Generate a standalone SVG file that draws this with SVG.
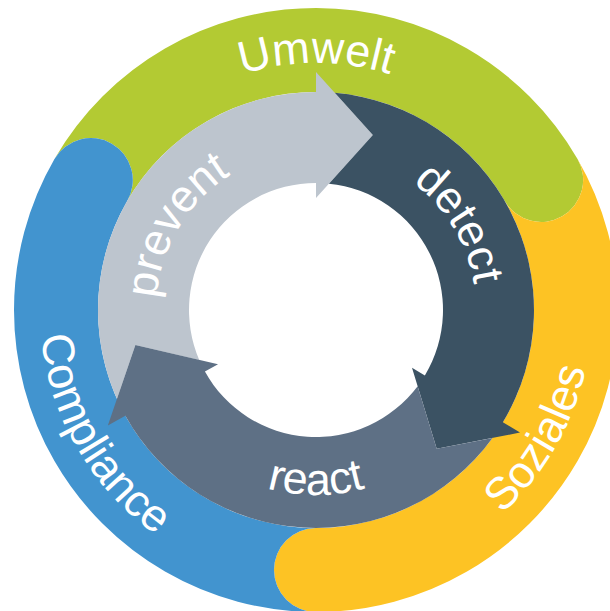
<svg xmlns="http://www.w3.org/2000/svg" width="610" height="611" viewBox="0 0 610 611">
  <style>
    .label { font-family: "Liberation Sans", Arial, Helvetica, sans-serif; font-size: 45px; fill: #ffffff; }
    .umwelt { fill: #B3CA33; }
    .soziales { fill: #FDC324; }
    .compliance { fill: #4294CF; }
    .prevent { fill: #BDC5CE; }
    .detect { fill: #3B5263; }
    .react { fill: #5E7085; }
  </style>
  <defs>
    <!-- baselines for the curved labels (centre 316,310) -->
    <path id="p-umwelt" d="M 72.75,267.11 A 247 247 0 0 1 559.25,267.11"/>
    <path id="p-soziales" d="M 221.60,569.36 A 276 276 0 0 0 493.41,98.57"/>
    <path id="p-compliance" d="M 138.59,98.57 A 276 276 0 0 0 410.40,569.36"/>
    <path id="p-prevent" d="M 211.03,430.75 A 160 160 0 0 1 373.34,160.63"/>
    <path id="p-detect" d="M 258.66,160.63 A 160 160 0 0 1 420.97,430.75"/>
    <path id="p-react" d="M 133.81,342.12 A 185 185 0 0 0 498.19,342.12"/>
  </defs>

  <!-- outer ring: three rounded segments, each tucked under the previous one's cap -->
  <g id="umwelt">
    <path class="umwelt" d="M 54.46,159 A 302 302 0 0 1 577.54,159 A 42 42 0 0 1 504.79,201 A 218 218 0 0 0 127.21,201 A 42 42 0 0 0 54.46,159 Z"/>
    <text class="label"><textPath href="#p-umwelt" startOffset="50%" text-anchor="middle">Umwelt</textPath></text>
  </g>
  <g id="soziales">
    <path class="soziales" d="M 577.54,159 A 302 302 0 0 1 316,612 A 42 42 0 0 1 316,528 A 218 218 0 0 0 504.79,201 A 42 42 0 0 0 577.54,159 Z"/>
    <text class="label"><textPath href="#p-soziales" startOffset="50%" text-anchor="middle">Soziales</textPath></text>
  </g>
  <g id="compliance">
    <path class="compliance" d="M 316,612 A 302 302 0 0 1 54.46,159 A 42 42 0 0 1 127.21,201 A 218 218 0 0 0 316,528 A 42 42 0 0 0 316,612 Z"/>
    <text class="label"><textPath href="#p-compliance" startOffset="50%" text-anchor="middle">Compliance</textPath></text>
  </g>

  <!-- inner cycle: three curved arrows, each body notched around the previous head -->
  <g id="prevent">
    <path class="prevent" d="M 116.94,398.88 A 218 218 0 0 1 316,92 L 316,72 L 372.86,135.01 L 316,198 L 316,183 A 127 127 0 0 0 199.23,359.93 L 135.38,345.11 Z"/>
    <text class="label"><textPath href="#p-prevent" startOffset="50%" text-anchor="middle">prevent</textPath></text>
  </g>
  <g id="detect">
    <path class="detect" d="M 334.77,92.81 A 218 218 0 0 1 502.86,422.28 L 520.01,432.58 L 436.71,448.87 L 412.00,367.68 L 424.86,375.41 A 127 127 0 0 0 328.94,183.66 L 372.86,135.01 Z"/>
    <text class="label"><textPath href="#p-detect" startOffset="50%" text-anchor="middle">detect</textPath></text>
  </g>
  <g id="react">
    <path class="react" d="M 492.50,437.95 A 218 218 0 0 1 125.33,415.69 L 107.84,425.38 L 135.38,345.11 L 218.04,364.30 L 204.92,371.57 A 127 127 0 0 0 417.63,386.16 L 436.71,448.87 Z"/>
    <text class="label"><textPath href="#p-react" startOffset="50%" text-anchor="middle">react</textPath></text>
  </g>

  <g id="connectors"/>
</svg>
